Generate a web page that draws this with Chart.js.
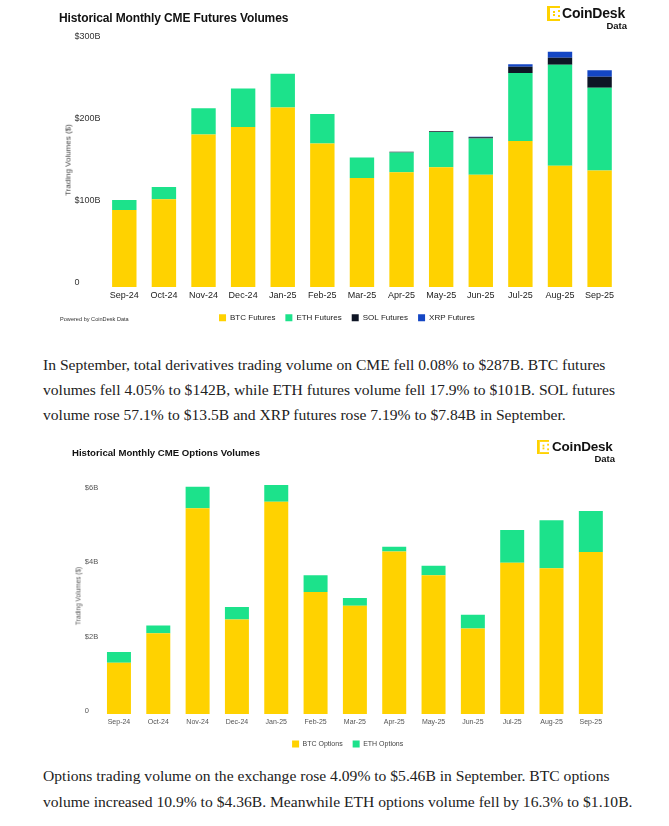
<!DOCTYPE html>
<html>
<head>
<meta charset="utf-8">
<script src="https://cdn.jsdelivr.net/npm/chart.js@4.4.1/dist/chart.umd.min.js"></script>
<style>
  body { margin: 0; background: #fff; width: 669px; height: 826px; position: relative; overflow: hidden;
         font-family: "Liberation Sans", Arial, sans-serif; }
  .abs { position: absolute; white-space: nowrap; }
  .title { font-weight: bold; color: #111; }
  .ytitle { transform: translate(-50%, -50%) rotate(-90deg); color: #444; }
  .logo { font-weight: bold; color: #111; }
  .para { font-family: "Liberation Serif", serif; color: #222; font-size: 15.6px; line-height: 20px; left: 43px; }
</style>
</head>
<body>

<!-- futures chart -->
<div class="abs" style="left:0;top:0;width:669px;height:340px"><canvas id="futuresChart"></canvas></div>
<div class="abs title" style="left:59px;top:11px;font-size:12px;line-height:14px;letter-spacing:-0.12px">Historical Monthly CME Futures Volumes</div>
<svg class="abs" style="left:547px;top:6px" width="13" height="15" viewBox="0 0 13 15">
  <g fill="#FFD200">
    <rect x="0" y="0" width="3" height="15"/><rect x="3" y="0" width="10" height="2"/><rect x="3" y="13" width="10" height="2"/>
    <rect x="11" y="4" width="2" height="2"/><rect x="11" y="9" width="2" height="2"/>
    <rect x="6" y="5" width="2" height="2"/><rect x="6" y="8" width="2" height="2"/>
  </g>
</svg>
<div class="abs logo" style="left:562px;top:5px;font-size:14px;line-height:16px;letter-spacing:-0.2px">CoinDesk</div>
<div class="abs logo" style="right:42px;top:21px;font-size:9.5px;line-height:10px">Data</div>
<div class="abs ytitle" style="left:68px;top:160px;font-size:8px">Trading Volumes ($)</div>
<div class="abs" style="left:60px;top:316px;font-size:5.6px;line-height:6px;color:#333">Powered by CoinDesk Data</div>

<div class="abs para" style="top:355px">In September, total derivatives trading volume on CME fell 0.08% to $287B. BTC futures</div>
<div class="abs para" style="top:380px">volumes fell 4.05% to $142B, while ETH futures volume fell 17.9% to $101B. SOL futures</div>
<div class="abs para" style="top:405px">volume rose 57.1% to $13.5B and XRP futures rose 7.19% to $7.84B in September.</div>

<!-- options chart -->
<div class="abs" style="left:0;top:430px;width:669px;height:330px"><canvas id="optionsChart"></canvas></div>
<div class="abs title" style="left:72px;top:447px;font-size:9.6px;line-height:12px">Historical Monthly CME Options Volumes</div>
<svg class="abs" style="left:537px;top:440px" width="12" height="14" viewBox="0 0 13 15" preserveAspectRatio="none">
  <g fill="#FFD200">
    <rect x="0" y="0" width="3" height="15"/><rect x="3" y="0" width="10" height="2"/><rect x="3" y="13" width="10" height="2"/>
    <rect x="11" y="4" width="2" height="2"/><rect x="11" y="9" width="2" height="2"/>
    <rect x="6" y="5" width="2" height="2"/><rect x="6" y="8" width="2" height="2"/>
  </g>
</svg>
<div class="abs logo" style="left:552px;top:439px;font-size:13.5px;line-height:16px;letter-spacing:-0.2px">CoinDesk</div>
<div class="abs logo" style="right:54px;top:454px;font-size:9.5px;line-height:10px">Data</div>
<div class="abs ytitle" style="left:78px;top:596px;font-size:6.5px;color:#555">Trading Volumes ($)</div>

<div class="abs para" style="top:766px">Options trading volume on the exchange rose 4.09% to $5.46B in September. BTC options</div>
<div class="abs para" style="top:792px">volume increased 10.9% to $4.36B. Meanwhile ETH options volume fell by 16.3% to $1.10B.</div>

<script>
const months = ['Sep-24', 'Oct-24', 'Nov-24', 'Dec-24', 'Jan-25', 'Feb-25', 'Mar-25', 'Apr-25', 'May-25', 'Jun-25', 'Jul-25', 'Aug-25', 'Sep-25'];

// futures, $B
const btcFutures = [94, 107, 186, 195, 219, 175, 133, 140, 146, 137, 178, 148, 142];
const ethFutures = [12, 15, 32, 47, 41, 36, 25, 24, 43, 44, 83, 123, 101];
const solFutures = [0, 0, 0, 0, 0, 0, 0, 1, 1, 1.5, 7.5, 8.6, 13.5];
const xrpFutures = [0, 0, 0, 0, 0, 0, 0, 0, 0, 0.8, 3, 7.3, 7.8];
const futuresTicks = [0, 100, 200, 300];

// options, $B
const btcOptions = [1.38, 2.17, 5.53, 2.54, 5.71, 3.28, 2.91, 4.37, 3.73, 2.30, 4.07, 3.92, 4.36];
const ethOptions = [0.29, 0.21, 0.58, 0.34, 0.45, 0.45, 0.21, 0.13, 0.26, 0.37, 0.88, 1.29, 1.10];
const optionsTicks = [0, 2, 4, 6];

const yellow = '#FFD200';
const green = '#1CE28B';
const navy = '#0E1525';
const blue = '#1446C4';

Chart.defaults.font.family = "'Liberation Sans', Arial, sans-serif";
Chart.defaults.animation = false;

const money = v => v === 0 ? '0' : '$' + v + 'B';

function bars(label, data, color, pct) {
    return { label: label, data: data, backgroundColor: color, borderWidth: 0, barPercentage: pct, categoryPercentage: 1 };
}

// Futures chart
const futuresCtx = document.getElementById('futuresChart').getContext('2d');
new Chart(futuresCtx, {
    type: 'bar',
    data: {
        labels: months,
        datasets: [
            bars('BTC Futures', btcFutures, yellow, 0.616),
            bars('ETH Futures', ethFutures, green, 0.616),
            bars('SOL Futures', solFutures, navy, 0.616),
            bars('XRP Futures', xrpFutures, blue, 0.616)
        ]
    },
    options: {
        responsive: true,
        maintainAspectRatio: false,
        layout: { padding: { left: 74.5, right: 49.6, top: 41, bottom: 8.2 } },
        plugins: {
            legend: {
                position: 'bottom',
                labels: { boxWidth: 7, boxHeight: 7, padding: 10, color: '#222', font: { size: 8 } }
            },
            tooltip: { enabled: false }
        },
        scales: {
            x: {
                stacked: true,
                grid: { display: false, drawTicks: false },
                border: { display: false },
                ticks: { color: '#222', font: { size: 9 }, padding: 3, maxRotation: 0, autoSkip: false }
            },
            y: {
                stacked: true,
                min: 0,
                max: 300,
                grid: { display: false, drawTicks: false },
                border: { display: false },
                afterBuildTicks: s => { s.ticks = futuresTicks.map(v => ({ value: v })); },
                afterFit: s => { s.width = 30; },
                ticks: { crossAlign: 'far', labelOffset: -4, color: '#333', font: { size: 9 }, callback: money }
            }
        }
    }
});

// Options chart
const optionsCtx = document.getElementById('optionsChart').getContext('2d');
new Chart(optionsCtx, {
    type: 'bar',
    data: {
        labels: months,
        datasets: [
            bars('BTC Options', btcOptions, yellow, 0.61),
            bars('ETH Options', ethOptions, green, 0.61)
        ]
    },
    options: {
        responsive: true,
        maintainAspectRatio: false,
        layout: { padding: { left: 84.8, right: 58.5, top: 42.3, bottom: 2.6 } },
        plugins: {
            legend: {
                position: 'bottom',
                labels: { boxWidth: 7, boxHeight: 7, padding: 10, color: '#444', font: { size: 7 } }
            },
            tooltip: { enabled: false }
        },
        scales: {
            x: {
                stacked: true,
                grid: { display: false, drawTicks: false },
                border: { display: false },
                ticks: { color: '#555', font: { size: 7 }, padding: 4, maxRotation: 0, autoSkip: false }
            },
            y: {
                stacked: true,
                min: 0,
                max: 6.5,
                grid: { display: false, drawTicks: false },
                border: { display: false },
                afterBuildTicks: s => { s.ticks = optionsTicks.map(v => ({ value: v })); },
                afterFit: s => { s.width = 14.5; },
                ticks: { crossAlign: 'far', labelOffset: -3, color: '#555', font: { size: 7.5 }, callback: money }
            }
        }
    }
});
</script>
</body>
</html>
